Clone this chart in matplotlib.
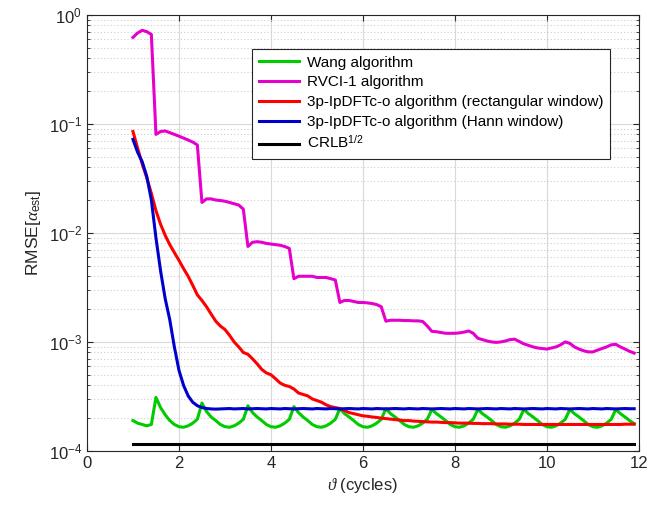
import matplotlib
matplotlib.use('Agg')
import matplotlib.pyplot as plt
import numpy as np

# data (theta in cycles, step 0.1)
theta = np.round(np.arange(1.0, 11.95, 0.1), 1)

wang = [0.00019, 0.00018, 0.000175, 0.00017, 0.000175,
        0.00031, 0.00025, 0.000215, 0.00019, 0.000175, 0.000167, 0.000165, 0.00017, 0.00018, 0.000195,
        0.000275, 0.00023, 0.000205, 0.00019, 0.000175, 0.000167, 0.000165, 0.00017, 0.00018, 0.000195,
        0.00026, 0.000225, 0.000205, 0.00019, 0.000175, 0.000167, 0.000165, 0.00017, 0.00018, 0.000195,
        0.000255, 0.000225, 0.000205, 0.00019, 0.000175, 0.000167, 0.000165, 0.00017, 0.00018, 0.000195,
        0.000245, 0.00022, 0.000205, 0.00019, 0.000175, 0.000167, 0.000165, 0.00017, 0.00018, 0.000195,
        0.000245, 0.00022, 0.000205, 0.00019, 0.000175, 0.000167, 0.000165, 0.00017, 0.00018, 0.000195,
        0.00024, 0.00022, 0.000205, 0.00019, 0.000175, 0.000167, 0.000165, 0.00017, 0.00018, 0.000195,
        0.00024, 0.00022, 0.000205, 0.00019, 0.000175, 0.000167, 0.000165, 0.00017, 0.00018, 0.000195,
        0.00024, 0.00022, 0.000205, 0.00019, 0.000175, 0.000167, 0.000165, 0.00017, 0.00018, 0.000195,
        0.00024, 0.00022, 0.000205, 0.00019, 0.000175, 0.000167, 0.000165, 0.00017, 0.00018, 0.000195,
        0.00024, 0.00022, 0.000205, 0.00019, 0.000178]

rvci = [0.62, 0.68, 0.72, 0.70, 0.66,
        0.080, 0.085, 0.086, 0.083, 0.080, 0.077, 0.074, 0.071, 0.068, 0.064,
        0.019, 0.0205, 0.0205, 0.020, 0.0198, 0.0195, 0.019, 0.0185, 0.018, 0.0165,
        0.0075, 0.0082, 0.0083, 0.0082, 0.0080, 0.0079, 0.0078, 0.0077, 0.0075, 0.0072,
        0.0038, 0.0040, 0.0040, 0.0040, 0.0040, 0.0039, 0.0039, 0.0039, 0.0038, 0.0037,
        0.0023, 0.0024, 0.0024, 0.00235, 0.0023, 0.0023, 0.00228, 0.00225, 0.0022, 0.0021,
        0.00155, 0.00158, 0.00158, 0.00158, 0.00157, 0.00157, 0.00156, 0.00156, 0.00154, 0.0014,
        0.00125, 0.00124, 0.00122, 0.0012, 0.0012, 0.0012, 0.00121, 0.00123, 0.00126, 0.0012,
        0.00108, 0.00105, 0.00102, 0.001, 0.00099, 0.001, 0.00102, 0.00105, 0.00106, 0.00101,
        0.00096, 0.00093, 0.0009, 0.00088, 0.00087, 0.00086, 0.00088, 0.0009, 0.00094, 0.001,
        0.00097, 0.0009, 0.00086, 0.00083, 0.00081, 0.00081, 0.00084, 0.00087, 0.0009, 0.00094,
        0.00095, 0.0009, 0.00086, 0.00082, 0.00079]

rect = [0.085, 0.06, 0.043, 0.032, 0.023,
        0.016, 0.012, 0.0095, 0.0078, 0.0066, 0.0056, 0.0047, 0.0040, 0.0033, 0.0027,
        0.0024, 0.0021, 0.0018, 0.00155, 0.0014, 0.0013, 0.00115, 0.001, 0.0009, 0.0008,
        0.00077, 0.0007, 0.00063, 0.00056, 0.00052, 0.0005, 0.00046, 0.00042, 0.0004, 0.00039,
        0.00037, 0.00034, 0.00033, 0.00032, 0.0003, 0.00029, 0.00028, 0.000265, 0.000255, 0.00025,
        0.000245, 0.000235, 0.000225, 0.00022, 0.000215, 0.00021, 0.000208, 0.000205, 0.000203, 0.0002,
        0.000198, 0.000196, 0.000194, 0.000192, 0.00019, 0.00019, 0.000188, 0.000187, 0.000186, 0.000185,
        0.000184, 0.000184, 0.000183, 0.000182, 0.000182, 0.000181, 0.00018, 0.00018, 0.00018, 0.000179,
        0.000179, 0.000178, 0.000178, 0.000178, 0.000177, 0.000177, 0.000177, 0.000176, 0.000176, 0.000176,
        0.000175, 0.000175, 0.000175, 0.000175, 0.000175, 0.000175, 0.000175, 0.000175, 0.000175, 0.000175,
        0.000175, 0.000175, 0.000175, 0.000175, 0.000175, 0.000175, 0.000175, 0.000175, 0.000175, 0.000175,
        0.000175, 0.000175, 0.000176, 0.000176, 0.000176]

hann = [0.072, 0.055, 0.045, 0.033, 0.02,
        0.009, 0.0045, 0.0025, 0.0016, 0.0009, 0.00055, 0.0004, 0.00032, 0.00028, 0.00026,
        0.00025, 0.000245, 0.000243, 0.000242, 0.000243, 0.000244, 0.000245, 0.000243, 0.000244, 0.000245,
        0.000243, 0.000244, 0.000245, 0.000244, 0.000243, 0.000245, 0.000244, 0.000243, 0.000245, 0.000244,
        0.000243, 0.000244, 0.000245, 0.000244, 0.000243, 0.000245, 0.000244, 0.000243, 0.000245, 0.000244,
        0.000243, 0.000244, 0.000245, 0.000244, 0.000243, 0.000245, 0.000244, 0.000243, 0.000245, 0.000244,
        0.000243, 0.000244, 0.000245, 0.000244, 0.000243, 0.000245, 0.000244, 0.000243, 0.000245, 0.000244,
        0.000243, 0.000244, 0.000245, 0.000244, 0.000243, 0.000245, 0.000244, 0.000243, 0.000245, 0.000244,
        0.000243, 0.000244, 0.000245, 0.000244, 0.000243, 0.000245, 0.000244, 0.000243, 0.000245, 0.000244,
        0.000243, 0.000244, 0.000245, 0.000244, 0.000243, 0.000245, 0.000244, 0.000243, 0.000245, 0.000244,
        0.000243, 0.000244, 0.000245, 0.000244, 0.000243, 0.000245, 0.000244, 0.000243, 0.000245, 0.000244,
        0.000243, 0.000244, 0.000245, 0.000244, 0.000244]

crlb = [0.000116] * len(theta)

labels = ['Wang algorithm', 'RVCI-1 algorithm',
          '3p-IpDFTc-o algorithm (rectangular window)',
          '3p-IpDFTc-o algorithm (Hann window)',
          r'CRLB$^{1/2}$']

plt.rcParams['font.family'] = ['Liberation Sans', 'DejaVu Sans']
plt.rcParams['mathtext.fontset'] = 'custom'
plt.rcParams['mathtext.rm'] = 'Liberation Sans'
plt.rcParams['mathtext.it'] = 'Liberation Serif:italic'
plt.rcParams['font.size'] = 11.5

fig = plt.figure(figsize=(6.64, 5.09), dpi=100)
ax = fig.add_axes([0.131, 0.114, 0.831, 0.857])

lw = 2.2
ax.plot(theta, wang, color=(0.0, 0.8, 0.0), lw=lw, label=labels[0])
ax.plot(theta, rvci, color=(0.9, 0.0, 0.8), lw=lw, label=labels[1])
ax.plot(theta, rect, color=(1.0, 0.0, 0.0), lw=lw, label=labels[2])
ax.plot(theta, hann, color=(0.0, 0.0, 0.8), lw=lw, label=labels[3])
ax.plot(theta, crlb, color='black', lw=lw, label=labels[4])

ax.set_yscale('log')
ax.set_xlim(0, 12)
ax.set_ylim(1e-4, 1)
ax.set_xticks(np.arange(0, 13, 2))

ax.grid(True, which='major', color='#d9d9d9', lw=0.8, ls='-')
ax.grid(True, which='minor', axis='y', color='#cfcfcf', lw=0.8, ls=(0, (1, 2)))
ax.set_axisbelow(True)
ax.tick_params(which='both', direction='in', top=True, right=True, colors='#262626')
ax.tick_params(which='major', length=4, labelsize=12)
ax.tick_params(which='minor', length=2.5)
for s in ax.spines.values():
    s.set_color('#262626')
    s.set_linewidth(0.8)

ax.set_xlabel(r'$\vartheta$ (cycles)', color='#262626', fontsize=12)
ax.set_ylabel(r'RMSE[$\alpha_{\rm est}$]', color='#262626', fontsize=12.5)

leg = ax.legend(loc='upper right', bbox_to_anchor=(0.948, 0.922), borderaxespad=0,
                fancybox=False, fontsize=11, edgecolor='#262626', framealpha=1,
                handlelength=2.6, borderpad=0.45, labelspacing=0.38, handletextpad=0.5)
leg.get_frame().set_linewidth(0.8)

fig.savefig('out.png', dpi=100)
